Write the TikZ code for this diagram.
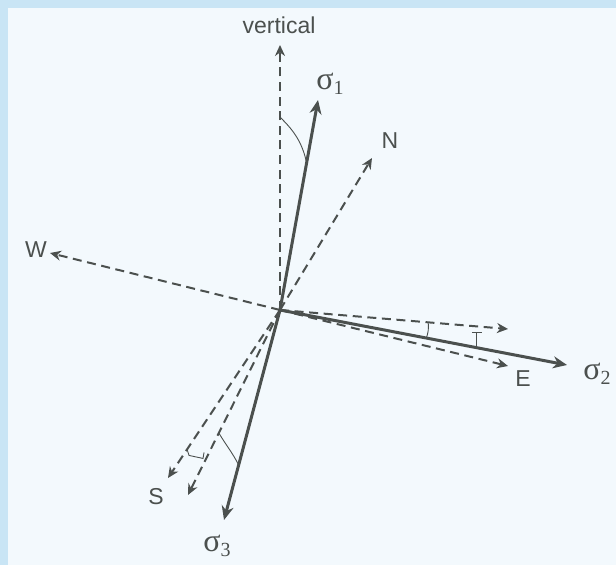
\documentclass[tikz,border=0pt]{standalone}
\usepackage{fontspec}
\setmainfont{Liberation Sans}
\newfontfamily\greekfont{Liberation Serif}
\usetikzlibrary{arrows.meta,calc}
\definecolor{ink}{HTML}{4B504E}
\definecolor{paper}{HTML}{F3F9FD}
\definecolor{rim}{HTML}{C9E5F5}
\newcommand\sig[1]{{\greekfont\fontsize{16}{16}\selectfont σ\raisebox{-.3ex}{\fontsize{10}{10}\selectfont #1}}}

\begin{document}
\begin{tikzpicture}[x=.5pt,y=-.5pt,
  dashvec/.style={draw=ink,line width=1pt,dash pattern=on 4.5pt off 2.8pt,-{Stealth[length=5.5pt,width=5pt]}},
  mainvec/.style={draw=ink,line width=1.5pt,-{Stealth[length=7pt,width=6pt]}},
  anglemark/.style={draw=ink,line width=.45pt},
  lbl/.style={text=ink,inner sep=0,font=\fontsize{11.5}{13}\selectfont}]
\fill[rim] (0,0) rectangle (616,565);
\fill[paper] (8,8) rectangle (616,565);
\useasboundingbox (0,0) rectangle (616,565);
\coordinate (o) at (280,310);
% tips
\coordinate (vert) at (280,45);
\coordinate (n) at (372,158);
\coordinate (w) at (50,253);
\coordinate (hz) at (508,329);
\coordinate (e) at (508,366);
\coordinate (s) at (168,478);
\coordinate (sd) at (188,495);
\coordinate (s1) at (318,100);
\coordinate (s2) at (567,365);
\coordinate (s3) at (224,520);
% labels
\node[lbl] (vertlbl) at (279,25) {vertical};
\node[lbl] (nlbl) at (390,141) {N};
\node[lbl] (wlbl) at (36,250) {W};
\node[lbl] (elbl) at (523,379) {E};
\node[lbl] (slbl) at (156,497) {S};
\node[lbl] (s1lbl) at (330,84) {\sig{1}};
\node[lbl] (s2lbl) at (597,374) {\sig{2}};
\node[lbl] (s3lbl) at (217,546) {\sig{3}};
% dashed directions
\foreach \t in {vert,n,w,hz,e,s,sd}
  \draw[dashvec] (o) -- (\t);
% stress axes
\foreach \t in {s1,s2,s3}
  \draw[mainvec] (o) -- (\t);
% angle marks
\draw[anglemark] ($(o)!.728!(vert)$) .. controls (291,128) and (302,140) .. ($(o)!.70!(s1)$);
\draw[anglemark] ($(o)!.65!(hz)$) to[bend left=12] ($(o)!.51!(s2)$);
\draw[anglemark] ($(o)!.686!(s2)$) -- ++(0,-15) ++(-5,0) -- ++(10,0);
\draw[anglemark] ($(o)!.83!(s)$) -- ++(2,6) -- ++(14,3) -- ++(1,-6);
\draw[anglemark] ($(o)!.665!(sd)$) .. controls (226,445) and (232,452) .. ($(o)!.738!(s3)$);
\end{tikzpicture}
\end{document}
